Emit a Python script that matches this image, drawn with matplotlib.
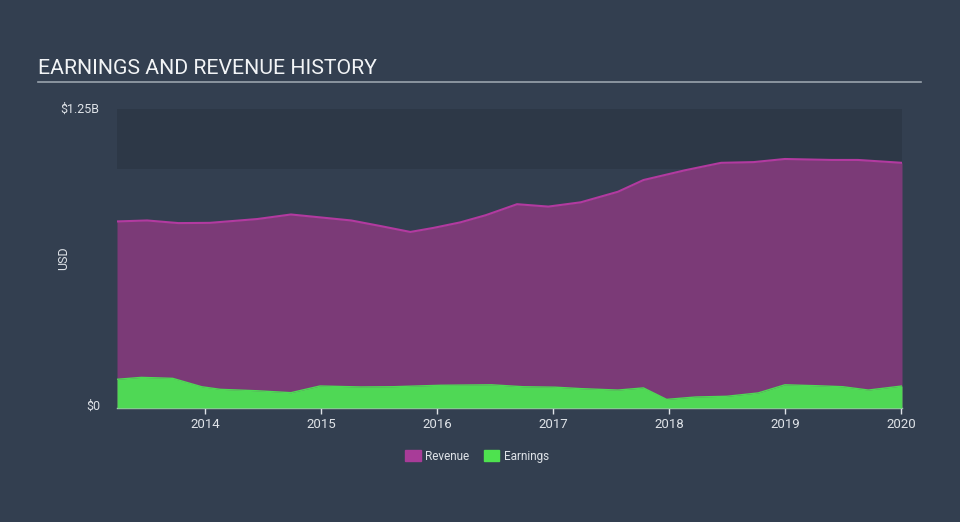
#!/usr/bin/env python3
import numpy as np
import matplotlib
matplotlib.use('Agg')
import matplotlib.pyplot as plt
from matplotlib.patches import Patch

# === Data (years as decimals, values in USD billions) ===
rev_years = [2013.24, 2013.50, 2013.77, 2014.04, 2014.45, 2014.74, 2014.99, 2015.26,
             2015.52, 2015.77, 2015.97, 2016.20, 2016.42, 2016.69, 2016.96, 2017.24,
             2017.56, 2017.78, 2018.14, 2018.45, 2018.73, 2019.00, 2019.40, 2019.63, 2020.01]
revenue = [0.780, 0.784, 0.773, 0.774, 0.790, 0.809, 0.797, 0.784,
           0.760, 0.736, 0.753, 0.776, 0.806, 0.852, 0.842, 0.860,
           0.904, 0.953, 0.994, 1.025, 1.028, 1.041, 1.037, 1.037, 1.025]

earn_years = [2013.24, 2013.45, 2013.72, 2013.97, 2014.13, 2014.45, 2014.74, 2014.99,
              2015.34, 2015.62, 2016.03, 2016.47, 2016.74, 2017.02, 2017.24, 2017.56,
              2017.78, 2017.98, 2018.23, 2018.50, 2018.77, 2019.00, 2019.28, 2019.50,
              2019.72, 2020.01]
earnings = [0.120, 0.128, 0.124, 0.089, 0.078, 0.072, 0.064, 0.092,
            0.088, 0.089, 0.095, 0.097, 0.089, 0.087, 0.081, 0.075,
            0.084, 0.036, 0.046, 0.049, 0.063, 0.097, 0.093, 0.089,
            0.075, 0.092]

year_ticks = [2014, 2015, 2016, 2017, 2018, 2019, 2020]

BG = '#333f50'
REV_FILL = '#7b3a77'
REV_LINE = '#b23aa0'
EARN_FILL = '#4fd855'
TEXT = '#dfe3e8'

plt.rcParams['font.family'] = ['Roboto', 'DejaVu Sans']

fig = plt.figure(figsize=(9.6, 5.22), dpi=100)
fig.patch.set_facecolor(BG)

ax = fig.add_axes([117/960, 114/522, 785/960, 299/522])
ax.set_facecolor(BG)

# darker band above $1B
ax.axhspan(1.0, 1.25, color='#2d3847', zorder=0, lw=0)

ax.fill_between(rev_years, revenue, 0, color=REV_FILL, lw=0, zorder=1)
ax.plot(rev_years, revenue, color=REV_LINE, lw=1.5, zorder=2, solid_joinstyle='round')
ax.fill_between(earn_years, earnings, 0, color=EARN_FILL, lw=0, zorder=3)
ax.plot(earn_years, earnings, color=EARN_FILL, lw=1, zorder=3, solid_joinstyle='round')

ax.set_xlim(2013.24, 2020.01)
ax.set_ylim(0, 1.25)
ax.set_xticks(year_ticks)
ax.set_xticklabels([str(y) for y in year_ticks])
ax.set_yticks([])
ax.tick_params(axis='x', colors=TEXT, labelsize=9.5, length=4, width=1)
for lbl in ax.get_xticklabels():
    lbl.set_color(TEXT)
for side in ['top', 'right', 'left']:
    ax.spines[side].set_visible(False)
ax.spines['bottom'].set_color('#b9c0c9')
ax.spines['bottom'].set_linewidth(1)

# y labels
fig.text(60/960, 1 - 109/522, '$1.25B', color=TEXT, fontsize=9, ha='left', va='center')
fig.text(86/960, 1 - 406/522, '$0', color=TEXT, fontsize=9, ha='left', va='center')
fig.text(64/960, 1 - 258/522, 'USD', color=TEXT, fontsize=9, rotation=90,
         ha='center', va='center')

# title with underline
fig.text(38/960, 1 - 69/522, 'EARNINGS AND REVENUE HISTORY', color='#f2f4f6',
         fontsize=15.3, ha='left', va='center')
fig.add_artist(plt.Line2D([38/960, 921/960], [1 - 82/522, 1 - 82/522],
                          color='#9aa3ad', lw=1.2))

# legend
handles = [Patch(color='#a83c98', label='Revenue'), Patch(color='#4ee24f', label='Earnings')]
leg = fig.legend(handles=handles, loc='center', bbox_to_anchor=(477/960, 1 - 456/522),
                 ncol=2, frameon=False, fontsize=8.5, handlelength=1.3, handleheight=1.1,
                 columnspacing=1.2, handletextpad=0.4)
for t in leg.get_texts():
    t.set_color(TEXT)

fig.savefig('out.png', dpi=100, facecolor=BG)
